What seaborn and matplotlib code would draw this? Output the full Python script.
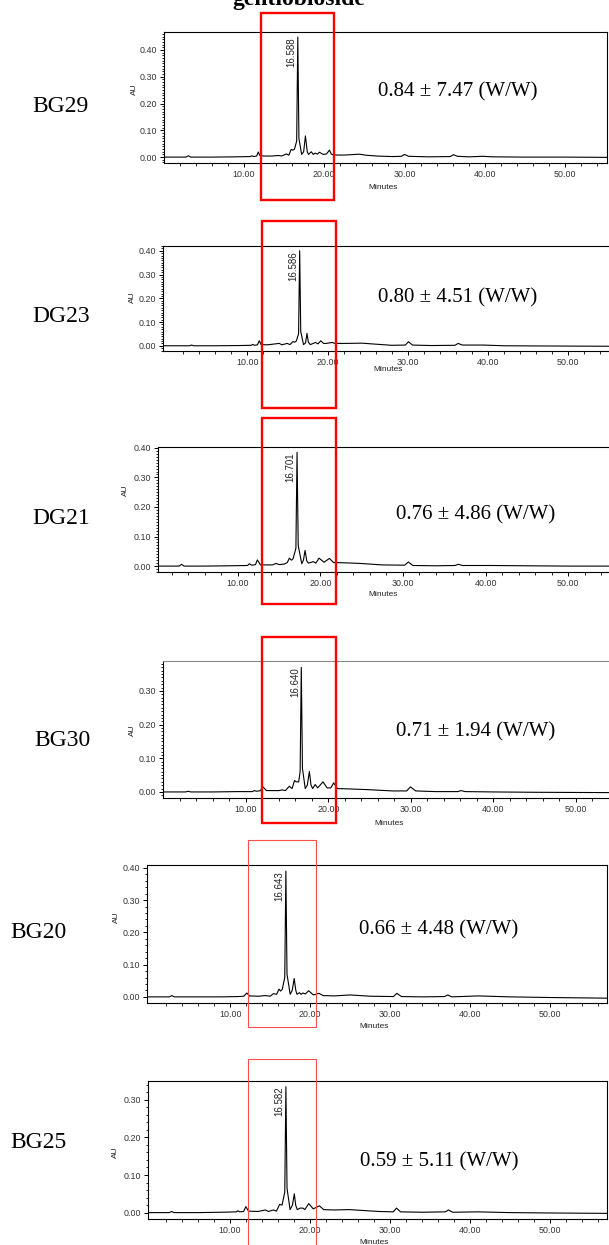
"""
Six HPLC chromatograms (gentiobioside), stacked, with red highlight boxes.
"""

import matplotlib
matplotlib.use('Agg')
import matplotlib.pyplot as plt
import matplotlib.ticker as mticker
from matplotlib.patches import Rectangle
import numpy as np
import seaborn as sns

W, H = 609, 1245

TITLE = 'gentiobioside'
SAMPLES = ['BG29', 'DG23', 'DG21', 'BG30', 'BG20', 'BG25']
CONTENT = ['0.84 ± 7.47 (W/W)', '0.80 ± 4.51 (W/W)', '0.76 ± 4.86 (W/W)',
           '0.71 ± 1.94 (W/W)', '0.66 ± 4.48 (W/W)', '0.59 ± 5.11 (W/W)']
PEAK_LABELS = ['16.588', '16.586', '16.701', '16.640', '16.643', '16.582']
X_TICKS = [10, 20, 30, 40, 50]

# traces (minutes, AU)
bg29_t = [0.07, 2.8, 3.1, 3.4, 6.0, 9.0, 10.8, 11.0, 11.2, 11.6, 11.8, 12.0, 12.5, 13.5, 14.3, 14.7,
          15.3, 15.6, 15.9, 16.1, 16.3, 16.58, 16.72, 16.86, 17.2, 17.45, 17.67, 17.9, 18.05, 18.4,
          18.65, 18.9, 19.15, 19.4, 19.9, 20.3, 20.66, 20.9, 21.15, 22.5, 24.4, 25.2, 26.6, 28.5,
          29.6, 30.0, 30.5, 33.0, 35.7, 36.1, 36.6, 38.0, 39.7, 41.0, 45.0, 50.0, 55.2]
bg29_au = [0.0, 0.0, 0.005, 0.0, 0.0, 0.001, 0.002, 0.005, 0.002, 0.004, 0.019, 0.006, 0.004, 0.004,
           0.006, 0.004, 0.012, 0.007, 0.029, 0.026, 0.029, 0.06, 0.448, 0.07, 0.01, 0.02, 0.079,
           0.02, 0.01, 0.02, 0.01, 0.015, 0.011, 0.018, 0.01, 0.012, 0.026, 0.011, 0.008, 0.0075,
           0.011, 0.007, 0.004, 0.002, 0.003, 0.01, 0.003, 0.001, 0.002, 0.009, 0.003, 0.001, 0.003,
           0.001, 0.0, 0.0, -0.001]

dg23_t = [-0.5, 2.8, 3.0, 3.3, 6.0, 9.0, 10.5, 10.65, 10.9, 11.25, 11.47, 11.7, 12.5, 13.97, 14.3,
          14.96, 15.3, 15.7, 15.9, 16.1, 16.38, 16.52, 16.65, 17.0, 17.25, 17.43, 17.6, 17.85, 18.5,
          18.8, 19.15, 19.5, 19.85, 20.57, 20.9, 22.5, 24.3, 25.5, 28.0, 29.7, 30.1, 30.6, 33.0,
          35.9, 36.3, 36.8, 39.5, 42.0, 48.0, 55.1]
dg23_au = [0.0, 0.0, 0.003, 0.0, 0.0, 0.001, 0.002, 0.006, 0.002, 0.004, 0.021, 0.005, 0.004, 0.01,
           0.004, 0.01, 0.005, 0.018, 0.015, 0.02, 0.05, 0.40, 0.06, 0.005, 0.012, 0.052, 0.015,
           0.005, 0.014, 0.008, 0.021, 0.01, 0.01, 0.014, 0.01, 0.01, 0.011, 0.008, 0.002, 0.003,
           0.017, 0.003, 0.001, 0.002, 0.01, 0.003, 0.003, 0.0, -0.001, -0.002]

dg21_t = [0.35, 2.9, 3.2, 3.5, 6.0, 9.0, 11.2, 11.4, 11.7, 12.15, 12.37, 12.75, 14.2, 14.64, 15.0,
          15.65, 16.0, 16.25, 16.5, 16.7, 17.04, 17.18, 17.32, 17.75, 17.95, 18.15, 18.35, 18.55,
          19.15, 19.45, 19.84, 20.45, 21.1, 21.6, 23.0, 24.8, 27.5, 30.2, 30.65, 31.2, 34.0, 36.3,
          36.7, 37.2, 40.7, 45.0, 50.0, 55.0]
dg21_au = [0.0, 0.0, 0.006, 0.0, 0.0, 0.001, 0.002, 0.008, 0.003, 0.005, 0.021, 0.004, 0.004, 0.009,
           0.005, 0.007, 0.012, 0.027, 0.02, 0.025, 0.06, 0.385, 0.07, 0.008, 0.02, 0.053, 0.018,
           0.01, 0.015, 0.01, 0.027, 0.013, 0.026, 0.012, 0.011, 0.009, 0.004, 0.003, 0.014, 0.002,
           0.001, 0.002, 0.006, 0.002, 0.002, 0.001, 0.0, 0.0]

bg30_t = [-0.05, 2.7, 3.0, 3.3, 6.0, 9.0, 10.8, 11.0, 11.3, 11.8, 12.0, 12.5, 14.0, 14.4, 14.8,
          15.27, 15.6, 15.9, 16.1, 16.4, 16.58, 16.72, 16.86, 17.2, 17.45, 17.7, 17.9, 18.1, 18.4,
          18.7, 19.0, 19.35, 19.85, 20.3, 20.65, 21.1, 22.5, 24.6, 27.8, 29.5, 29.96, 30.6, 33.0,
          35.7, 36.1, 36.6, 40.0, 45.0, 54.1]
bg30_au = [0.0, 0.0, 0.002, 0.0, 0.0, 0.001, 0.001, 0.004, 0.002, 0.004, 0.017, 0.004, 0.004, 0.006,
           0.004, 0.017, 0.01, 0.034, 0.03, 0.03, 0.06, 0.37, 0.07, 0.01, 0.02, 0.061, 0.02, 0.01,
           0.022, 0.012, 0.02, 0.03, 0.012, 0.012, 0.027, 0.01, 0.009, 0.007, 0.003, 0.003, 0.015,
           0.003, 0.001, 0.001, 0.004, 0.001, 0.0, -0.001, -0.002]

bg20_t = [-0.4, 2.4, 2.7, 3.0, 6.0, 9.0, 11.0, 11.7, 12.08, 12.4, 13.5, 14.4, 15.0, 15.4, 15.8, 16.1,
          16.3, 16.5, 16.82, 16.96, 17.1, 17.5, 17.75, 18.0, 18.2, 18.35, 18.66, 18.85, 19.1, 19.4,
          19.8, 20.4, 21.1, 21.6, 23.0, 25.0, 27.5, 30.4, 30.84, 31.4, 34.0, 36.8, 37.2, 37.7,
          41.0, 45.0, 50.0, 57.1]
bg20_au = [0.0, 0.0, 0.004, 0.0, 0.0, 0.0, 0.001, 0.002, 0.012, 0.003, 0.002, 0.004, 0.002, 0.01,
           0.008, 0.024, 0.018, 0.023, 0.06, 0.39, 0.07, 0.008, 0.02, 0.057, 0.02, 0.008, 0.013,
           0.008, 0.012, 0.009, 0.019, 0.006, 0.011, 0.004, 0.003, 0.006, 0.002, 0.001, 0.011, 0.001,
           0.0, 0.001, 0.006, 0.0, 0.003, 0.0, -0.002, -0.004]

bg25_t = [-0.25, 2.4, 2.7, 3.0, 6.0, 9.0, 10.8, 10.97, 11.2, 11.7, 11.97, 12.3, 13.5, 14.4, 14.8,
          15.4, 15.8, 16.2, 16.5, 16.84, 16.98, 17.12, 17.5, 17.8, 18.03, 18.2, 18.4, 18.75, 19.1,
          19.35, 19.83, 20.4, 21.17, 21.7, 23.0, 24.85, 28.6, 30.4, 30.8, 31.3, 34.0, 36.9, 37.3,
          37.8, 41.0, 45.0, 50.0, 57.1]
bg25_au = [0.0, 0.0, 0.003, 0.0, 0.0, 0.001, 0.002, 0.005, 0.002, 0.003, 0.016, 0.004, 0.003, 0.007,
           0.003, 0.007, 0.004, 0.022, 0.02, 0.055, 0.335, 0.065, 0.008, 0.02, 0.05, 0.02, 0.008,
           0.012, 0.012, 0.008, 0.024, 0.01, 0.018, 0.008, 0.007, 0.008, 0.003, 0.002, 0.012, 0.002,
           0.001, 0.002, 0.007, 0.001, 0.002, 0.0, -0.001, -0.002]

TRACES = [(bg29_t, bg29_au), (dg23_t, dg23_au), (dg21_t, dg21_au),
          (bg30_t, bg30_au), (bg20_t, bg20_au), (bg25_t, bg25_au)]

# layout in pixels: axes box (left, top, right, bottom), limits, minor y step, right spine
PANELS = [
    dict(box=(164, 32, 607, 163), xlim=(0.07, 55.2), ylim=(-0.022, 0.467), ystep=0.01, right=True,
         label=(60, 107), note=(458, 92), au=(137.5, 89), minutes=(383, 184), top='black'),
    dict(box=(163, 246, 612, 351), xlim=(-0.54, 55.5), ylim=(-0.022, 0.42), ystep=0.01, right=False,
         label=(61, 317), note=(458, 298), au=(135.5, 297), minutes=(388, 366), top='black'),
    dict(box=(158, 447, 612, 572), xlim=(0.35, 55.3), ylim=(-0.02, 0.403), ystep=0.01, right=False,
         label=(61, 519), note=(476, 515), au=(128.5, 490), minutes=(383, 591.5), top='black'),
    dict(box=(163, 661, 612, 798), xlim=(-0.05, 54.4), ylim=(-0.018, 0.389), ystep=0.01, right=False,
         label=(62, 741), note=(476, 732), au=(136, 730), minutes=(389, 820), top='#888888'),
    dict(box=(147, 865, 607, 1003), xlim=(-0.4, 57.1), ylim=(-0.019, 0.409), ystep=0.02, right=True,
         label=(38, 932), note=(439, 930), au=(119.5, 917), minutes=(374, 1022.5), top='black'),
    dict(box=(148, 1081, 607, 1219), xlim=(-0.25, 57.1), ylim=(-0.017, 0.35), ystep=0.02, right=True,
         label=(38, 1142), note=(439, 1162), au=(119, 1152), minutes=(374, 1239), top='black'),
]

# red highlight boxes (left, top, right, bottom) in pixels, and whether drawn thick
RED_BOXES = [((260.7, 13, 333.7, 199.7), True), ((262, 221, 335.5, 408), True),
             ((262, 418.3, 336, 604.3), True), ((262, 636.7, 335.5, 823.3), True),
             ((248.3, 840, 316, 1026.7), False), ((248.3, 1059.3, 316, 1262), False)]

SANS = ['Liberation Sans', 'DejaVu Sans']
SERIF = ['Liberation Serif', 'DejaVu Serif']

sns.set_style('ticks')
plt.rcParams['font.family'] = SANS
plt.rcParams['text.color'] = 'black'


def fx(px):
    return px / W


def fy(py):
    return 1 - py / H


def draw_panel(fig, k, spec, t, au, peak_label):
    left, top, right, bottom = spec['box']
    ax = fig.add_axes([fx(left), fy(bottom), (right - left) / W, (bottom - top) / H])
    ax.set_facecolor('none')

    sns.lineplot(x=t, y=au, ax=ax, color='black', linewidth=0.8, estimator=None, sort=False)

    ax.set_xlim(*spec['xlim'])
    ax.set_ylim(*spec['ylim'])
    ax.xaxis.set_major_locator(mticker.FixedLocator(X_TICKS))
    ax.xaxis.set_minor_locator(mticker.FixedLocator(np.arange(2, 58, 2)))
    ax.yaxis.set_major_locator(mticker.MultipleLocator(0.1))
    ax.yaxis.set_minor_locator(mticker.MultipleLocator(spec['ystep']))
    ax.xaxis.set_major_formatter(mticker.FormatStrFormatter('%.2f'))
    ax.yaxis.set_major_formatter(mticker.FormatStrFormatter('%.2f'))
    ax.tick_params(which='major', direction='out', length=3, width=0.7, labelsize=6.4,
                   labelcolor='#333333', pad=2, color='black')
    ax.tick_params(which='minor', direction='out', length=1.8, width=0.6, color='black')

    for side in ['left', 'bottom', 'top', 'right']:
        ax.spines[side].set_linewidth(0.8)
        ax.spines[side].set_color('black')
    ax.spines['top'].set_color(spec['top'])
    ax.spines['right'].set_visible(spec['right'])

    # axis labels placed at pixel positions
    h = bottom - top
    w = right - left
    ax.set_xlabel('Minutes', fontsize=6, color='#222222')
    mx, my = spec['minutes']
    ax.xaxis.set_label_coords((mx - left) / w, (bottom - my) / h)
    ax.set_ylabel('AU', fontsize=6, color='#222222')
    ax_, ay = spec['au']
    ax.yaxis.set_label_coords((ax_ - left) / w, (bottom - ay) / h)

    # retention time of the main peak
    i = int(np.argmax(au))
    ax.annotate(peak_label, xy=(t[i], au[i]), xytext=(-1, 0), textcoords='offset points',
                rotation=90, ha='right', va='top', fontsize=7, color='#222222')

    lx, ly = spec['label']
    fig.text(fx(lx), fy(ly), SAMPLES[k], ha='center', va='center', fontsize=17,
             family=SERIF, color='black')
    nx, ny = spec['note']
    fig.text(fx(nx), fy(ny), CONTENT[k], ha='center', va='center', fontsize=15,
             family=SERIF, color='black')
    return ax


fig = plt.figure(figsize=(W / 100, H / 100), dpi=100)

for k, (spec, (t, au), lab) in enumerate(zip(PANELS, TRACES, PEAK_LABELS)):
    draw_panel(fig, k, spec, t, au, lab)

for (l, tp, r, b), thick in RED_BOXES:
    rect = Rectangle((fx(l), fy(b)), (r - l) / W, (b - tp) / H, transform=fig.transFigure,
                     fill=False, edgecolor='#ff0000' if thick else '#ff4d4d',
                     linewidth=1.7 if thick else 0.8, zorder=5)
    fig.add_artist(rect)

# the title sits partly above the top edge, as in the source
fig.text(fx(299), fy(5), TITLE, ha='center', va='baseline', fontsize=17,
         fontweight='bold', family=SERIF, color='black')

fig.savefig('out.png', dpi=100)
